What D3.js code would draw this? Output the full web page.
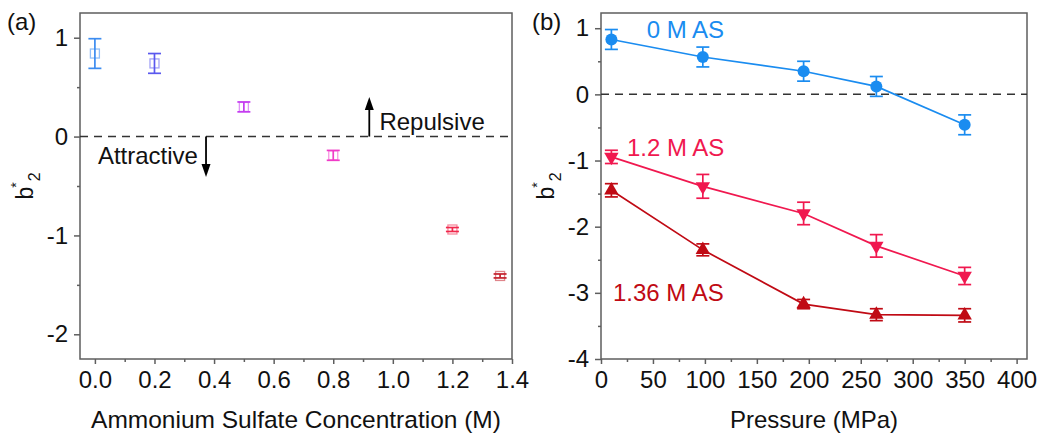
<!DOCTYPE html>
<html><head><meta charset="utf-8">
<script src="https://cdn.jsdelivr.net/npm/d3@7"></script>
<style>
html,body{margin:0;padding:0;background:#fff;}
svg{display:block;font-family:"Liberation Sans",Arial,sans-serif;}
</style></head>
<body><svg id="c" width="1050" height="441"></svg>
<script>
// ---------- Data ----------
// Panel (a)
const concA = [0.0, 0.2, 0.5, 0.8, 1.2, 1.36];
const b2A = [0.84, 0.74, 0.30, -0.19, -0.94, -1.41];
const errA = [0.15, 0.10, 0.05, 0.05, 0.02, 0.02];
const xTicksA = [0.0, 0.2, 0.4, 0.6, 0.8, 1.0, 1.2, 1.4];
const yTicksA = [-2, -1, 0, 1];
// Panel (b)
const pressure = [10, 98, 195, 265, 350];
const b2_0M = [0.83, 0.565, 0.35, 0.12, -0.46];
const err_0M = [0.15, 0.15, 0.15, 0.15, 0.15];
const b2_12M = [-0.945, -1.39, -1.80, -2.29, -2.745];
const err_12M = [0.10, 0.18, 0.17, 0.17, 0.13];
const b2_136M = [-1.45, -2.35, -3.17, -3.33, -3.34];
const err_136M = [0.10, 0.09, 0.07, 0.09, 0.10];
const seriesNames = ["0 M AS", "1.2 M AS", "1.36 M AS"];
const xTicksB = [0, 50, 100, 150, 200, 250, 300, 350, 400];
const yTicksB = [-4, -3, -2, -1, 0, 1];

// ---------- Styles ----------
const colorsA = ["#3c8cf0", "#5a58ee", "#c43cf0", "#f03cc8", "#f0284c", "#c4202c"];
const colorsB = ["#1a8cf0", "#f0184f", "#c00a14"];
const AX = "#5e5e5e";
const FS = 24;

const svg = d3.select("#c");
const fmt = d => (d < 0 ? "-" : "") + Math.abs(d);

function frame(g, x, y, xt, yt, xMinor, yMinor, xfmt) {
  const [x0, x1] = x.range(), [y0, y1] = y.range();
  const ax = g.append("g").attr("transform", `translate(0,${y0})`)
    .call(d3.axisBottom(x).tickValues(xMinor).tickSize(3).tickFormat(""));
  ax.select(".domain").remove();
  const ax2 = g.append("g").attr("transform", `translate(0,${y0})`)
    .call(d3.axisBottom(x).tickValues(xt).tickSize(5).tickPadding(7).tickFormat(xfmt));
  ax2.select(".domain").remove();
  const ay = g.append("g").attr("transform", `translate(${x0},0)`)
    .call(d3.axisLeft(y).tickValues(yMinor).tickSize(3).tickFormat(""));
  ay.select(".domain").remove();
  const ay2 = g.append("g").attr("transform", `translate(${x0},0)`)
    .call(d3.axisLeft(y).tickValues(yt).tickSize(6).tickPadding(6).tickFormat(fmt));
  ay2.select(".domain").remove();
  g.selectAll(".tick line").attr("stroke", AX).attr("stroke-width", 1.5);
  g.selectAll(".tick text").attr("fill", "#111").style("font-size", FS + "px")
    .style("font-family", '"Liberation Sans",Arial,sans-serif');
  g.append("rect").attr("x", x0).attr("y", y1).attr("width", x1 - x0).attr("height", y0 - y1)
    .attr("fill", "none").attr("stroke", AX).attr("stroke-width", 1.5);
}

function yLabel(g, xpos, ypos) {
  const t = g.append("text").attr("transform", `translate(${xpos},${ypos}) rotate(-90)`)
    .attr("text-anchor", "middle").attr("fill", "#111").style("font-size", "23px");
  t.append("tspan").text("b");
  t.append("tspan").attr("dx", -1).attr("dy", -12).style("font-size", "14px").text("*");
  t.append("tspan").attr("dx", 1).attr("dy", 19).style("font-size", "16px").text("2");
}

function errBars(g, x, y, xs, ys, es, color, cap, sw) {
  xs.forEach((xv, i) => {
    const c = typeof color === "function" ? color(i) : color;
    const px = x(xv), yt = y(ys[i] + es[i]), yb = y(ys[i] - es[i]);
    g.append("line").attr("x1", px).attr("x2", px).attr("y1", yt).attr("y2", yb)
      .attr("stroke", c).attr("stroke-width", sw);
    [yt, yb].forEach(yy => g.append("line").attr("x1", px - cap).attr("x2", px + cap)
      .attr("y1", yy).attr("y2", yy).attr("stroke", c).attr("stroke-width", sw));
  });
}

function arrow(g, px, py0, py1) {
  const dir = py1 < py0 ? -1 : 1;
  g.append("line").attr("x1", px).attr("x2", px).attr("y1", py0).attr("y2", py1 - dir * 9)
    .attr("stroke", "#000").attr("stroke-width", 1.8);
  g.append("path").attr("d", `M${px},${py1} L${px - 4.5},${py1 - dir * 13} L${px + 4.5},${py1 - dir * 13} Z`)
    .attr("fill", "#000");
}

// ---------- Panel (a) ----------
const xA = d3.scaleLinear().domain([-0.05, 1.4]).range([80, 512]);
const yA = d3.scaleLinear().domain([-2.25, 1.25]).range([359, 13]);
const gA = svg.append("g");
frame(gA, xA, yA, xTicksA, yTicksA, d3.range(0.1, 1.4, 0.2), [-1.5, -0.5, 0.5], d3.format(".1f"));
gA.append("line").attr("x1", xA(-0.05)).attr("x2", xA(1.4)).attr("y1", yA(0)).attr("y2", yA(0))
  .attr("stroke", "#333").attr("stroke-width", 1.5).attr("stroke-dasharray", "8,6");
errBars(gA, xA, yA, concA, b2A, errA, i => colorsA[i], 6.5, 1.7);
concA.forEach((c, i) => {
  gA.append("rect").attr("x", xA(c) - 4.5).attr("y", yA(b2A[i]) - 4.5).attr("width", 9).attr("height", 9)
    .attr("fill", "none").attr("stroke", colorsA[i]).attr("stroke-opacity", 0.55).attr("stroke-width", 1.3);
});
arrow(gA, xA(0.921), yA(0), yA(0.40));
arrow(gA, xA(0.373), yA(0), yA(-0.41));
gA.append("text").attr("x", xA(0.955)).attr("y", yA(0.066)).style("font-size", FS + "px").attr("fill", "#111").text("Repulsive");
gA.append("text").attr("x", xA(0.01)).attr("y", yA(-0.28)).style("font-size", FS + "px").attr("fill", "#111").text("Attractive");
gA.append("text").attr("x", 7).attr("y", 30).style("font-size", FS + "px").attr("fill", "#111").text("(a)");
gA.append("text").attr("x", 296).attr("y", 428).attr("text-anchor", "middle").style("font-size", "24.5px")
  .attr("fill", "#111").text("Ammonium Sulfate Concentration (M)");
yLabel(gA, 33, 186);

// ---------- Panel (b) ----------
const xB = d3.scaleLinear().domain([0, 410]).range([601, 1027]);
const yB = d3.scaleLinear().domain([-4, 1.23]).range([359, 13]);
const gB = svg.append("g");
frame(gB, xB, yB, xTicksB, yTicksB, d3.range(25, 400, 50), [-3.5, -2.5, -1.5, -0.5, 0.5], d3.format("d"));
gB.append("line").attr("x1", xB(0)).attr("x2", xB(410)).attr("y1", yB(0)).attr("y2", yB(0))
  .attr("stroke", "#333").attr("stroke-width", 1.5).attr("stroke-dasharray", "8,6");

const seriesB = [
  {v: b2_0M, e: err_0M, sym: "circle"},
  {v: b2_12M, e: err_12M, sym: "down"},
  {v: b2_136M, e: err_136M, sym: "up"}
];
const line = d3.line();
seriesB.forEach((s, k) => {
  const col = colorsB[k];
  gB.append("path").attr("d", line(pressure.map((p, i) => [xB(p), yB(s.v[i])])))
    .attr("fill", "none").attr("stroke", col).attr("stroke-width", 1.7);
  errBars(gB, xB, yB, pressure, s.v, s.e, col, 6.5, 1.7);
  pressure.forEach((p, i) => {
    const px = xB(p), py = yB(s.v[i]);
    if (s.sym === "circle") {
      gB.append("circle").attr("cx", px).attr("cy", py).attr("r", 6).attr("fill", col);
    } else {
      const rot = s.sym === "down" ? 180 : 0;
      gB.append("path").attr("d", d3.symbol(d3.symbolTriangle, 90)())
        .attr("transform", `translate(${px},${py}) rotate(${rot})`).attr("fill", col);
    }
  });
});
gB.append("text").attr("x", xB(44)).attr("y", yB(0.85)).style("font-size", FS + "px").attr("fill", colorsB[0]).text(seriesNames[0]);
gB.append("text").attr("x", xB(25)).attr("y", yB(-0.925)).style("font-size", FS + "px").attr("fill", colorsB[1]).text(seriesNames[1]);
gB.append("text").attr("x", xB(11.5)).attr("y", yB(-3.12)).style("font-size", FS + "px").attr("fill", colorsB[2]).text(seriesNames[2]);
gB.append("text").attr("x", 532).attr("y", 30).style("font-size", FS + "px").attr("fill", "#111").text("(b)");
gB.append("text").attr("x", 814).attr("y", 428).attr("text-anchor", "middle").style("font-size", FS + "px")
  .attr("fill", "#111").text("Pressure (MPa)");
yLabel(gB, 554, 186);
</script></body></html>
